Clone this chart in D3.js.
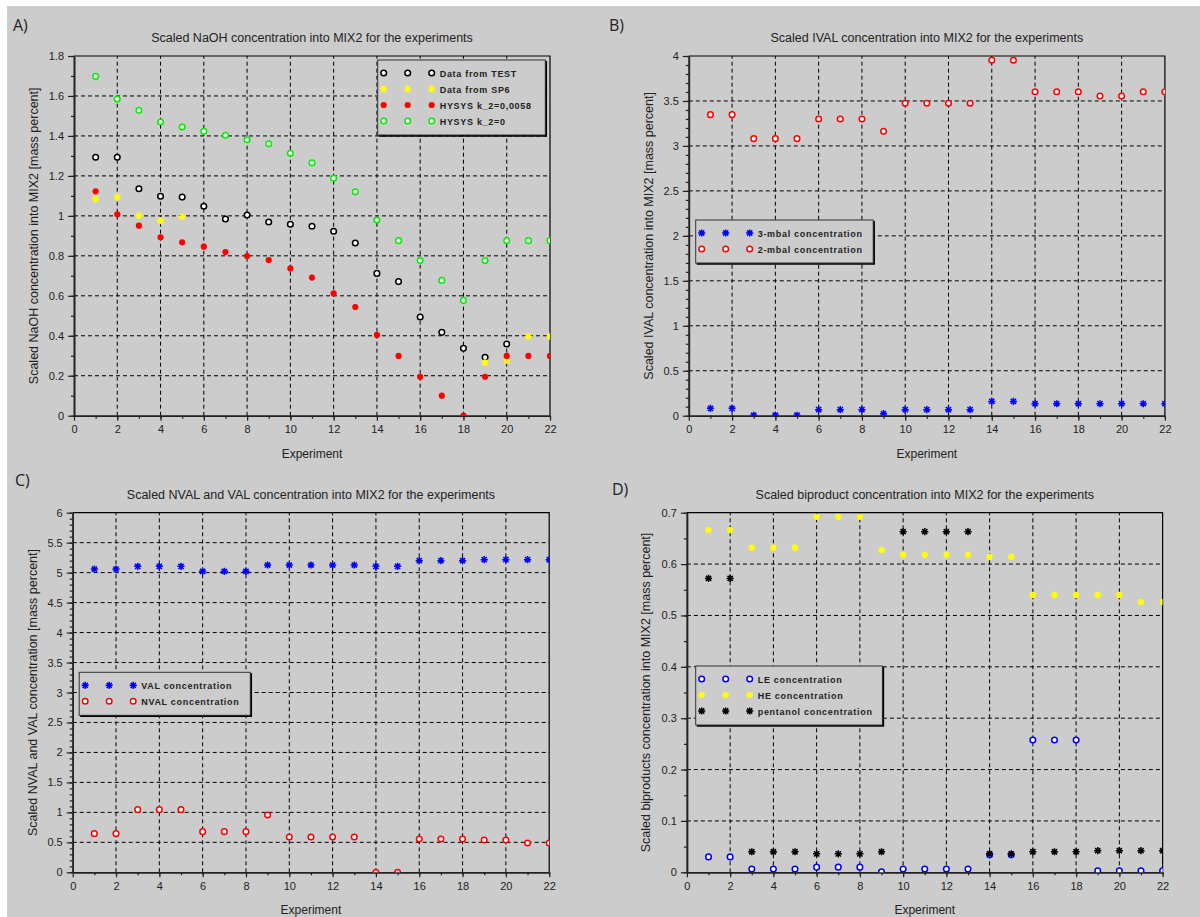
<!DOCTYPE html>
<html>
<head>
<meta charset="utf-8">
<script src="https://cdn.jsdelivr.net/npm/d3@7"></script>
<style>
body { margin: 0; background: #fff; }
text { font-family: "Liberation Sans", Arial, sans-serif; }
</style>
</head>
<body>
<script>
// experiments on the x axis
var experiments = [1,2,3,4,5,6,7,8,9,10,11,12,13,14,15,16,17,18,19,20,21,22];

// A) NaOH
var naohTest = [1.293,1.293,1.136,1.098,1.094,1.048,0.984,1.004,0.969,0.958,0.948,0.923,0.864,0.712,0.671,0.494,0.417,0.337,0.292,0.359,null,null];
var naohSp6 = [1.084,1.094,1.001,0.976,0.996,null,null,null,null,null,null,null,null,null,null,null,null,null,0.267,0.277,0.397,0.397];
var naohHysysK2 = [1.123,1.008,0.951,0.893,0.868,0.846,0.819,0.799,0.779,0.737,0.691,0.612,0.544,0.404,0.299,0.195,0.100,0.000,0.195,0.299,0.299,0.299];
var naohHysysK0 = [1.698,1.585,1.528,1.470,1.445,1.423,1.403,1.381,1.361,1.313,1.266,1.188,1.121,0.979,0.876,0.777,0.677,0.577,0.777,0.876,0.876,0.876];

// B) IVAL
var mbal3 = [0.082,0.082,0.005,0.005,0.005,0.067,0.067,0.067,0.022,0.067,0.067,0.067,0.067,0.159,0.159,0.133,0.133,0.133,0.133,0.133,0.133,0.133];
var mbal2 = [3.348,3.348,3.081,3.081,3.081,3.299,3.299,3.299,3.162,3.474,3.474,3.474,3.474,3.952,3.952,3.603,3.603,3.603,3.555,3.555,3.603,3.603];

// C) NVAL and VAL
var valConc = [5.060,5.060,5.105,5.105,5.105,5.021,5.021,5.021,5.127,5.127,5.127,5.127,5.127,5.105,5.105,5.199,5.199,5.199,5.216,5.216,5.216,5.216];
var nvalConc = [0.645,0.645,1.045,1.045,1.045,0.678,0.678,0.678,0.956,0.589,0.589,0.589,0.589,0,0,0.556,0.556,0.556,0.539,0.539,0.489,0.489];

// D) biproducts
var leConc = [0.030,0.030,0.0065,0.0065,0.0065,0.010,0.010,0.010,0.001,0.0065,0.0065,0.0065,0.0065,0.034,0.034,0.2576,0.2576,0.2576,0.003,0.003,0.003,0.003];
var heConc = [0.666,0.666,0.632,0.632,0.632,0.692,0.692,0.692,0.627,0.618,0.618,0.618,0.618,0.614,0.614,0.540,0.540,0.540,0.540,0.540,0.526,0.526];
var pentanolConc = [0.572,0.572,0.040,0.040,0.040,0.036,0.036,0.036,0.040,0.663,0.663,0.663,0.663,0.036,0.036,0.040,0.040,0.040,0.042,0.042,0.042,0.042];

var xTicks = [0,2,4,6,8,10,12,14,16,18,20,22];

var width = 1200, height = 917;
var grey = "#cccccc";

var svg = d3.select("body").append("svg")
  .attr("width", width)
  .attr("height", height);

svg.append("rect").attr("width", width).attr("height", height).attr("fill", "#fff");
svg.append("rect").attr("x", 7).attr("y", 6).attr("width", width - 7).attr("height", height - 6).attr("fill", grey);

var panels = [
  {
    id: "a", label: "A)", lx: 13, ly: 31,
    title: "Scaled NaOH concentration into MIX2 for the experiments",
    ylabel: "Scaled NaOH concentration into MIX2 [mass percent]",
    left: 74, right: 550, top: 56, bottom: 415.7,
    yMax: 1.8, yStep: 0.2, yMinor: 0.1, ylabX: 34,
    legend: { x: 377.7, y: 60, w: 167.6 },
    series: [
      { name: "Data from TEST", values: naohTest, type: "ring", color: "#000" },
      { name: "Data from SP6", values: naohSp6, type: "star", color: "#ffff00" },
      { name: "HYSYS k_2=0,0058", values: naohHysysK2, type: "dot", color: "#ff0000" },
      { name: "HYSYS k_2=0", values: naohHysysK0, type: "ring", color: "#00ee00" }
    ]
  },
  {
    id: "b", label: "B)", lx: 609, ly: 31,
    title: "Scaled IVAL concentration into MIX2 for the experiments",
    ylabel: "Scaled IVAL concentration into MIX2 [mass percent]",
    left: 688.8, right: 1164.9, top: 56, bottom: 415.7,
    yMax: 4, yStep: 0.5, yMinor: 0.1, ylabX: 649,
    legend: { x: 695.7, y: 220, w: 177.5 },
    series: [
      { name: "3-mbal concentration", values: mbal3, type: "star", color: "#0000ff" },
      { name: "2-mbal concentration", values: mbal2, type: "ring", color: "#ff0000" }
    ]
  },
  {
    id: "c", label: "C)", lx: 15, ly: 486,
    title: "Scaled NVAL and VAL concentration into MIX2 for the experiments",
    ylabel: "Scaled NVAL and VAL concentration [mass percent]",
    left: 72.7, right: 549.2, top: 512.7, bottom: 872.3,
    yMax: 6, yStep: 0.5, yMinor: 0.1, ylabX: 33,
    legend: { x: 79.2, y: 672.3, w: 171.1 },
    series: [
      { name: "VAL concentration", values: valConc, type: "star", color: "#0000ff" },
      { name: "NVAL concentration", values: nvalConc, type: "ring", color: "#ff0000" }
    ]
  },
  {
    id: "d", label: "D)", lx: 612, ly: 495,
    title: "Scaled biproduct concentration into MIX2 for the experiments",
    ylabel: "Scaled biproducts concentration into MIX2 [mass percent]",
    left: 686.9, right: 1162.6, top: 512.7, bottom: 872.3,
    yMax: 0.7, yStep: 0.1, yMinor: 0.05, ylabX: 646,
    legend: { x: 695.7, y: 666, w: 186.7 },
    series: [
      { name: "LE concentration", values: leConc, type: "ring", color: "#0000ff" },
      { name: "HE concentration", values: heConc, type: "dot", color: "#ffff00" },
      { name: "pentanol concentration", values: pentanolConc, type: "star", color: "#000" }
    ]
  }
];

function drawMarker(g, type, color, cx, cy) {
  if (type == "ring") {
    g.append("circle").attr("cx", cx).attr("cy", cy).attr("r", 2.8)
      .attr("fill", "#fff").attr("stroke", color).attr("stroke-width", 1.5);
  } else if (type == "dot") {
    g.append("circle").attr("cx", cx).attr("cy", cy).attr("r", 3.1).attr("fill", color);
  } else {
    var s = 3.6, d = 2.6;
    var p = "M" + (cx - s) + "," + cy + "H" + (cx + s) +
      "M" + cx + "," + (cy - s) + "V" + (cy + s) +
      "M" + (cx - d) + "," + (cy - d) + "L" + (cx + d) + "," + (cy + d) +
      "M" + (cx - d) + "," + (cy + d) + "L" + (cx + d) + "," + (cy - d);
    g.append("path").attr("d", p).attr("stroke", color).attr("stroke-width", 1.5).attr("fill", "none");
    g.append("circle").attr("cx", cx).attr("cy", cy).attr("r", 1.6).attr("fill", color);
  }
}

var fmt = function (d) { return String(+d.toFixed(3)); };

panels.forEach(function (p) {
  var x = d3.scaleLinear().domain([0, 22]).range([p.left, p.right]);
  var y = d3.scaleLinear().domain([0, p.yMax]).range([p.bottom, p.top]);
  var nMaj = Math.round(p.yMax / p.yStep);
  var yTicks = d3.range(nMaj + 1).map(function (i) { return +(i * p.yStep).toFixed(3); });
  var nMin = Math.round(p.yMax / p.yMinor);
  var yMinorTicks = d3.range(nMin + 1).map(function (i) { return +(i * p.yMinor).toFixed(3); });
  var cx = (p.left + p.right) / 2, cy = (p.top + p.bottom) / 2;

  // panel letter
  svg.append("text").attr("x", p.lx).attr("y", p.ly).text(p.label)
    .style("font-family", "'Open Sans', sans-serif").style("font-size", "16px").attr("fill", "#222");

  // title
  svg.append("text").attr("x", cx).attr("y", p.top - 14).attr("text-anchor", "middle")
    .style("font-size", "12.5px").attr("fill", "#222").text(p.title);

  // grid
  var grid = svg.append("g").attr("stroke", "#000").attr("stroke-width", 1).attr("stroke-dasharray", "4,3");
  xTicks.slice(1, -1).forEach(function (t) {
    grid.append("line").attr("x1", x(t)).attr("x2", x(t)).attr("y1", p.bottom).attr("y2", p.top);
  });
  yTicks.slice(1, -1).forEach(function (t) {
    grid.append("line").attr("x1", p.left).attr("x2", p.right).attr("y1", y(t)).attr("y2", y(t));
  });

  // frame
  svg.append("path").attr("d", "M" + p.left + "," + p.top + "H" + p.right + "V" + p.bottom)
    .attr("stroke", "#000").attr("stroke-width", 1.2).attr("fill", "none");

  // axes
  var xAxis = svg.append("g").attr("transform", "translate(0," + p.bottom + ")")
    .call(d3.axisBottom(x).tickValues(xTicks).tickFormat(fmt).tickSize(5).tickSizeOuter(0).tickPadding(5));
  svg.append("g").attr("transform", "translate(0," + p.bottom + ")")
    .call(d3.axisBottom(x).tickValues(experiments).tickSize(3).tickFormat("").tickSizeOuter(0));
  var yAxis = svg.append("g").attr("transform", "translate(" + p.left + ",0)")
    .call(d3.axisLeft(y).tickValues(yTicks).tickFormat(fmt).tickSize(6).tickSizeOuter(0).tickPadding(4));
  svg.append("g").attr("transform", "translate(" + p.left + ",0)")
    .call(d3.axisLeft(y).tickValues(yMinorTicks).tickSize(3).tickFormat("").tickSizeOuter(0));
  svg.selectAll(".domain").attr("stroke", "#222").attr("stroke-width", 1.6);
  svg.selectAll(".tick line").attr("stroke", "#222").attr("stroke-width", 1.2);
  [xAxis, yAxis].forEach(function (a) {
    a.selectAll("text").style("font-family", "'Liberation Sans', Arial, sans-serif")
      .style("font-size", "11px").attr("fill", "#222");
  });

  // axis titles
  svg.append("text").attr("x", cx).attr("y", p.bottom + 42).attr("text-anchor", "middle")
    .style("font-size", "12px").attr("fill", "#222").text("Experiment");
  svg.append("text").attr("transform", "translate(" + (p.ylabX + 4) + "," + cy + ") rotate(-90)")
    .attr("text-anchor", "middle").style("font-size", "12.5px").attr("fill", "#222").text(p.ylabel);

  // points, clipped to the plot area
  svg.append("clipPath").attr("id", "clip-" + p.id).append("rect")
    .attr("x", p.left).attr("y", p.top).attr("width", p.right - p.left).attr("height", p.bottom - p.top);
  var pts = svg.append("g").attr("clip-path", "url(#clip-" + p.id + ")");
  p.series.forEach(function (s) {
    s.values.forEach(function (v, i) {
      if (v === null) return;
      drawMarker(pts, s.type, s.color, x(experiments[i]), y(v));
    });
  });

  // legend
  var L = p.legend, n = p.series.length, lh = 16 * n + 11;
  var lg = svg.append("g");
  lg.append("rect").attr("x", L.x).attr("y", L.y).attr("width", L.w).attr("height", lh)
    .attr("fill", grey).attr("stroke", "#333").attr("stroke-width", 1);
  lg.append("path").attr("d", "M" + (L.x + 1) + "," + (L.y + lh + 1) + "H" + (L.x + L.w + 1) + "V" + (L.y + 1))
    .attr("stroke", "#000").attr("stroke-width", 1.5).attr("fill", "none");
  p.series.forEach(function (s, i) {
    var ry = L.y + 13 + 16 * i;
    [6, 30, 54].forEach(function (dx) { drawMarker(lg, s.type, s.color, L.x + dx, ry); });
    lg.append("text").attr("x", L.x + 62).attr("y", ry + 3.5).text(s.name)
      .style("font-size", "9px").style("font-weight", "bold").style("letter-spacing", "0.7px")
      .attr("fill", "#222");
  });
});
</script>
</body>
</html>
